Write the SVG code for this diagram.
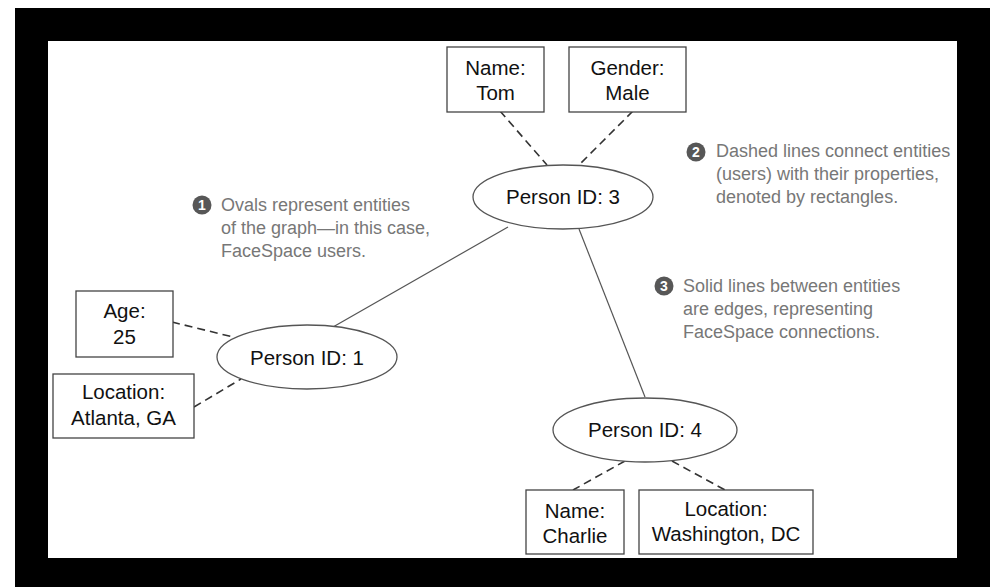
<svg xmlns="http://www.w3.org/2000/svg" width="998" height="587" viewBox="0 0 998 587">
  <style>
    .prop { fill: #ffffff; stroke: #444444; stroke-width: 1.3; }
    .entity { fill: #ffffff; stroke: #555555; stroke-width: 1.3; }
    .lbl { font-family: "Liberation Sans", Arial, sans-serif; font-size: 20.5px; fill: #111111; text-anchor: middle; }
    .note { font-family: "Liberation Sans", Arial, sans-serif; font-size: 18px; fill: #777777; }
    .badge { fill: #575757; }
    .badge-num { font-family: "Liberation Sans", Arial, sans-serif; font-size: 14px; font-weight: bold; fill: #ffffff; text-anchor: middle; }
    .edge { stroke: #555555; stroke-width: 1.2; fill: none; }
    .link { stroke: #333333; stroke-width: 1.6; stroke-dasharray: 8 5; fill: none; }
  </style>

  <!-- frame -->
  <rect x="0" y="0" width="998" height="587" fill="#ffffff"/>
  <rect x="15" y="8" width="975" height="579" fill="#000000"/>
  <rect x="48" y="41" width="909" height="517" fill="#ffffff"/>

  <!-- connectors -->
  <g id="connectors">
    <line class="edge" x1="508" y1="227" x2="333" y2="327"/>
    <line class="edge" x1="579" y1="229" x2="645" y2="397"/>
    <line class="link" x1="500" y1="111" x2="547" y2="165"/>
    <line class="link" x1="633" y1="111" x2="579" y2="165"/>
    <line class="link" x1="172" y1="322" x2="233" y2="337"/>
    <line class="link" x1="194" y1="407" x2="241" y2="379"/>
    <line class="link" x1="625" y1="461" x2="573" y2="490"/>
    <line class="link" x1="672" y1="461" x2="725" y2="490"/>
  </g>

  <!-- entities -->
  <g id="person3">
    <ellipse class="entity" cx="563" cy="197" rx="90" ry="32"/>
    <text class="lbl" x="563" y="204">Person ID: 3</text>
  </g>
  <g id="person1">
    <ellipse class="entity" cx="307" cy="357" rx="90" ry="32"/>
    <text class="lbl" x="307" y="365">Person ID: 1</text>
  </g>
  <g id="person4">
    <ellipse class="entity" cx="645" cy="430" rx="92" ry="32"/>
    <text class="lbl" x="645" y="437">Person ID: 4</text>
  </g>

  <!-- properties -->
  <g id="name-tom">
    <rect class="prop" x="447" y="47" width="97" height="65"/>
    <text class="lbl" x="495.5" y="75">Name:</text>
    <text class="lbl" x="495.5" y="100">Tom</text>
  </g>
  <g id="gender-male">
    <rect class="prop" x="569" y="47" width="117" height="65"/>
    <text class="lbl" x="627.5" y="75">Gender:</text>
    <text class="lbl" x="627.5" y="100">Male</text>
  </g>
  <g id="age-25">
    <rect class="prop" x="76" y="291" width="97" height="66"/>
    <text class="lbl" x="124.5" y="318">Age:</text>
    <text class="lbl" x="124.5" y="344">25</text>
  </g>
  <g id="location-atlanta">
    <rect class="prop" x="53" y="374" width="141" height="64"/>
    <text class="lbl" x="123.5" y="399">Location:</text>
    <text class="lbl" x="123.5" y="425">Atlanta, GA</text>
  </g>
  <g id="name-charlie">
    <rect class="prop" x="526" y="490" width="98" height="64"/>
    <text class="lbl" x="575" y="518">Name:</text>
    <text class="lbl" x="575" y="543">Charlie</text>
  </g>
  <g id="location-washington">
    <rect class="prop" x="639" y="490" width="174" height="64"/>
    <text class="lbl" x="726" y="516">Location:</text>
    <text class="lbl" x="726" y="541">Washington, DC</text>
  </g>

  <!-- annotations -->
  <g id="note1">
    <circle class="badge" cx="202" cy="205" r="9.5"/>
    <text class="badge-num" x="202" y="210">1</text>
    <text class="note" x="221" y="211">Ovals represent entities</text>
    <text class="note" x="221" y="234">of the graph—in this case,</text>
    <text class="note" x="221" y="257">FaceSpace users.</text>
  </g>
  <g id="note2">
    <circle class="badge" cx="696" cy="152" r="9.5"/>
    <text class="badge-num" x="696" y="157">2</text>
    <text class="note" x="716" y="157">Dashed lines connect entities</text>
    <text class="note" x="716" y="180">(users) with their properties,</text>
    <text class="note" x="716" y="203">denoted by rectangles.</text>
  </g>
  <g id="note3">
    <circle class="badge" cx="664" cy="286" r="9.5"/>
    <text class="badge-num" x="664" y="291">3</text>
    <text class="note" x="683" y="292">Solid lines between entities</text>
    <text class="note" x="683" y="315">are edges, representing</text>
    <text class="note" x="683" y="338">FaceSpace connections.</text>
  </g>
</svg>
